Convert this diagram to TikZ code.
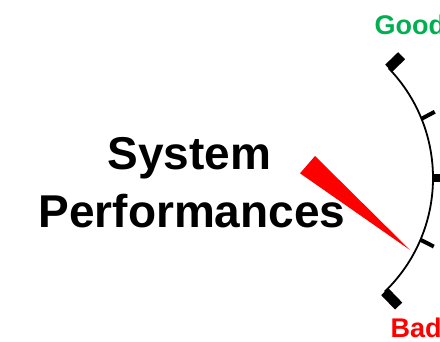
\documentclass[tikz,border=0pt]{standalone}
\usepackage{fontspec}
\setsansfont{Liberation Sans}
\usetikzlibrary{calc}
\definecolor{goodgreen}{RGB}{0,176,80}
\tikzset{
  gaugearc/.style={line width=1.8bp, black},
  minortick/.style={line width=4bp, black, line cap=butt},
  majortick/.style={line width=8bp, black, line cap=butt},
  endblock/.style={line width=10bp, black, line cap=butt},
  bigtext/.style={inner sep=0pt, anchor=base, font=\sffamily\bfseries\fontsize{46bp}{56bp}\selectfont},
  labeltext/.style={inner sep=0pt, anchor=base west, font=\sffamily\bfseries\fontsize{27bp}{30bp}\selectfont},
}
\begin{document}
\begin{tikzpicture}[x=1bp,y=-1bp]
\useasboundingbox (0,0) rectangle (440,341);
\clip (0,0) rectangle (440,341);
% gauge geometry
\coordinate (C) at (275,178);
\coordinate (atop) at ($(C)+(-44:158)$);
\coordinate (abot) at ($(C)+(46:158)$);
\coordinate (t1) at ($(C)+(-22:158)$);
\coordinate (t2) at ($(C)+(0:157)$);
\coordinate (t3) at ($(C)+(23:158)$);
% arc
\draw[gaugearc] (atop) arc[start angle=-44, end angle=46, radius=158];
% end blocks
\draw[endblock] (atop) -- ($(C)+(-44:176)$);
\draw[endblock] (abot) -- ($(C)+(46:178)$);
% ticks
\draw[minortick] (t1) -- ($(t1)+(-28:15)$);
\draw[majortick] (t2) -- ($(t2)+(0:15)$);
\draw[minortick] (t3) -- ($(t3)+(27:15)$);
% needle
\coordinate (n1) at (300,173.3);
\coordinate (n2) at (315,156);
\coordinate (ntip) at (410,250);
\fill[red] (n1) -- (n2) -- (ntip) -- cycle;
% texts
\node[bigtext] (sys) at (189.5,169) {System};
\node[bigtext] (perf) at (192,227) {Performances};
\node[labeltext, text=goodgreen] (good) at (374.5,34) {Good};
\node[labeltext, text=red] (bad) at (390.5,337.5) {Bad};
\end{tikzpicture}
\end{document}
